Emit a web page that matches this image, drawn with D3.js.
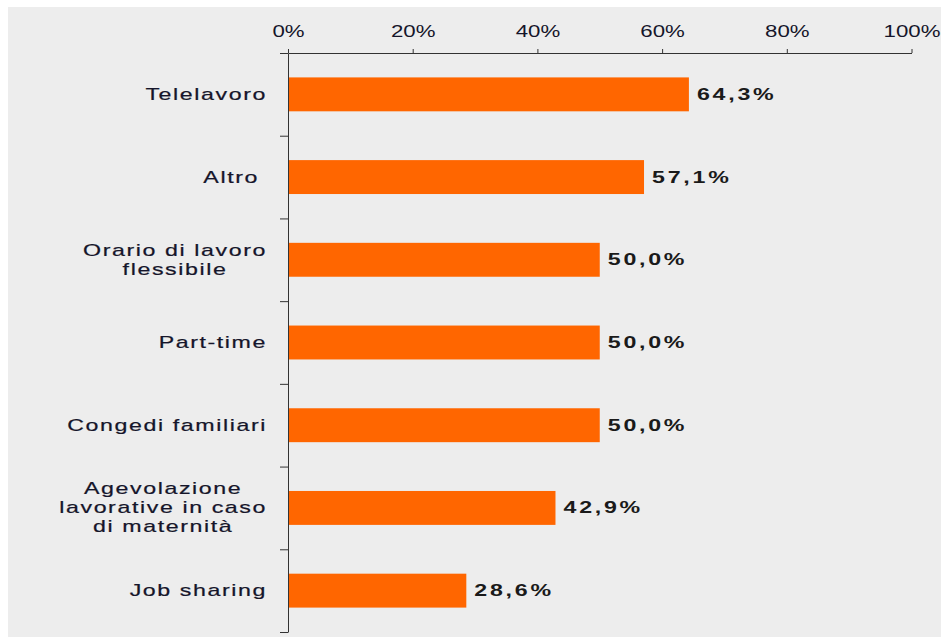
<!DOCTYPE html>
<html>
<head>
<meta charset="utf-8">
<script src="https://cdn.jsdelivr.net/npm/d3@7"></script>
<style>
  html, body { margin: 0; padding: 0; background: #ffffff; }
  svg { display: block; }
  text { font-family: "Liberation Sans", Arial, sans-serif; }
</style>
</head>
<body>
<svg id="chart" width="941" height="637"></svg>
<script>
// ---- data ----
const categories = [
  ["Telelavoro"],
  ["Altro "],
  ["Orario di lavoro", "flessibile"],
  ["Part-time"],
  ["Congedi familiari"],
  ["Agevolazione", "lavorative in caso", "di maternità"],
  ["Job sharing"]
];
const values = [64.3, 57.1, 50.0, 50.0, 50.0, 42.9, 28.6];
const tickValues = [0, 20, 40, 60, 80, 100];
const tickLabels = ["0%", "20%", "40%", "60%", "80%", "100%"];

// ---- layout ----
const W = 941, H = 637;
const mLeft = 288, mRight = 911.5, mTop = 53, mBottom = 632;
const SX = 1.45;      // horizontal stretch of the original text
const SX_TICK = 1.39;

const svg = d3.select("#chart");
svg.append("rect").attr("x", 8).attr("y", 7).attr("width", W - 8).attr("height", H - 7).attr("fill", "#EDEDED");

const keys = categories.map((c, i) => i);
const x = d3.scaleLinear().domain([0, 100]).range([mLeft, mRight]);
const y = d3.scaleBand().domain(keys).range([mTop, mBottom]).paddingInner(0.59).paddingOuter(0.295);
const yb = d3.scaleLinear().domain([0, categories.length]).range([mTop, mBottom]);

// bars
svg.append("g").selectAll("rect").data(values).join("rect")
  .attr("x", x(0))
  .attr("y", (d, i) => y(i))
  .attr("width", d => x(d) - x(0))
  .attr("height", y.bandwidth())
  .attr("fill", "#FF6600");

// top axis
const gx = svg.append("g").attr("transform", `translate(0,${mTop})`)
  .call(d3.axisTop(x).tickValues(tickValues).tickFormat((d, i) => tickLabels[i]).tickSize(4).tickSizeOuter(0));
gx.select(".domain").attr("stroke", "#333");
gx.selectAll(".tick line").attr("stroke", "#333");
gx.selectAll(".tick text")
  .attr("y", -16).attr("dy", "0")
  .attr("transform", `scale(${SX_TICK},1)`)
  .attr("font-size", 16)
  .attr("fill", "#15152a");

// left axis (band boundaries)
const gy = svg.append("g").attr("transform", `translate(${mLeft},0)`)
  .call(d3.axisLeft(yb).tickValues(d3.range(categories.length + 1)).tickFormat("").tickSize(8).tickSizeOuter(0));
gy.select(".domain").attr("stroke", "#333");
gy.selectAll(".tick line").attr("stroke", "#333");

// category labels
const labelRight = 267, lineH = 19;
categories.forEach((lines, i) => {
  const cy = y(i) + y.bandwidth() / 2;
  const g = svg.append("g").attr("transform", `translate(${labelRight},${cy}) scale(${SX},1)`);
  const texts = lines.map((line, j) => g.append("text")
    .attr("xml:space", "preserve")
    .style("white-space", "pre")
    .attr("font-size", 16)
    .attr("fill", "#15152a")
    .attr("stroke", "#15152a")
    .attr("stroke-width", 0.2)
    .style("letter-spacing", "1.1px")
    .attr("text-anchor", "middle")
    .attr("y", 5.5 + (j - (lines.length - 1) / 2) * lineH)
    .text(line));
  const maxW = d3.max(texts, t => t.node().getComputedTextLength());
  texts.forEach(t => t.attr("x", -maxW / 2));
});

// value labels
const fmt = d3.formatLocale({ decimal: ",", thousands: ".", grouping: [3], currency: ["€", ""] }).format(".1f");
values.forEach((v, i) => {
  const cy = y(i) + y.bandwidth() / 2;
  svg.append("text")
    .attr("transform", `translate(${x(v) + 8},${cy + 5.5}) scale(${SX},1)`)
    .attr("font-size", 16)
    .attr("font-weight", "bold")
    .attr("fill", "#1a1a1a")
    .style("letter-spacing", "1.9px")
    .text(fmt(v) + "%");
});
</script>
</body>
</html>
